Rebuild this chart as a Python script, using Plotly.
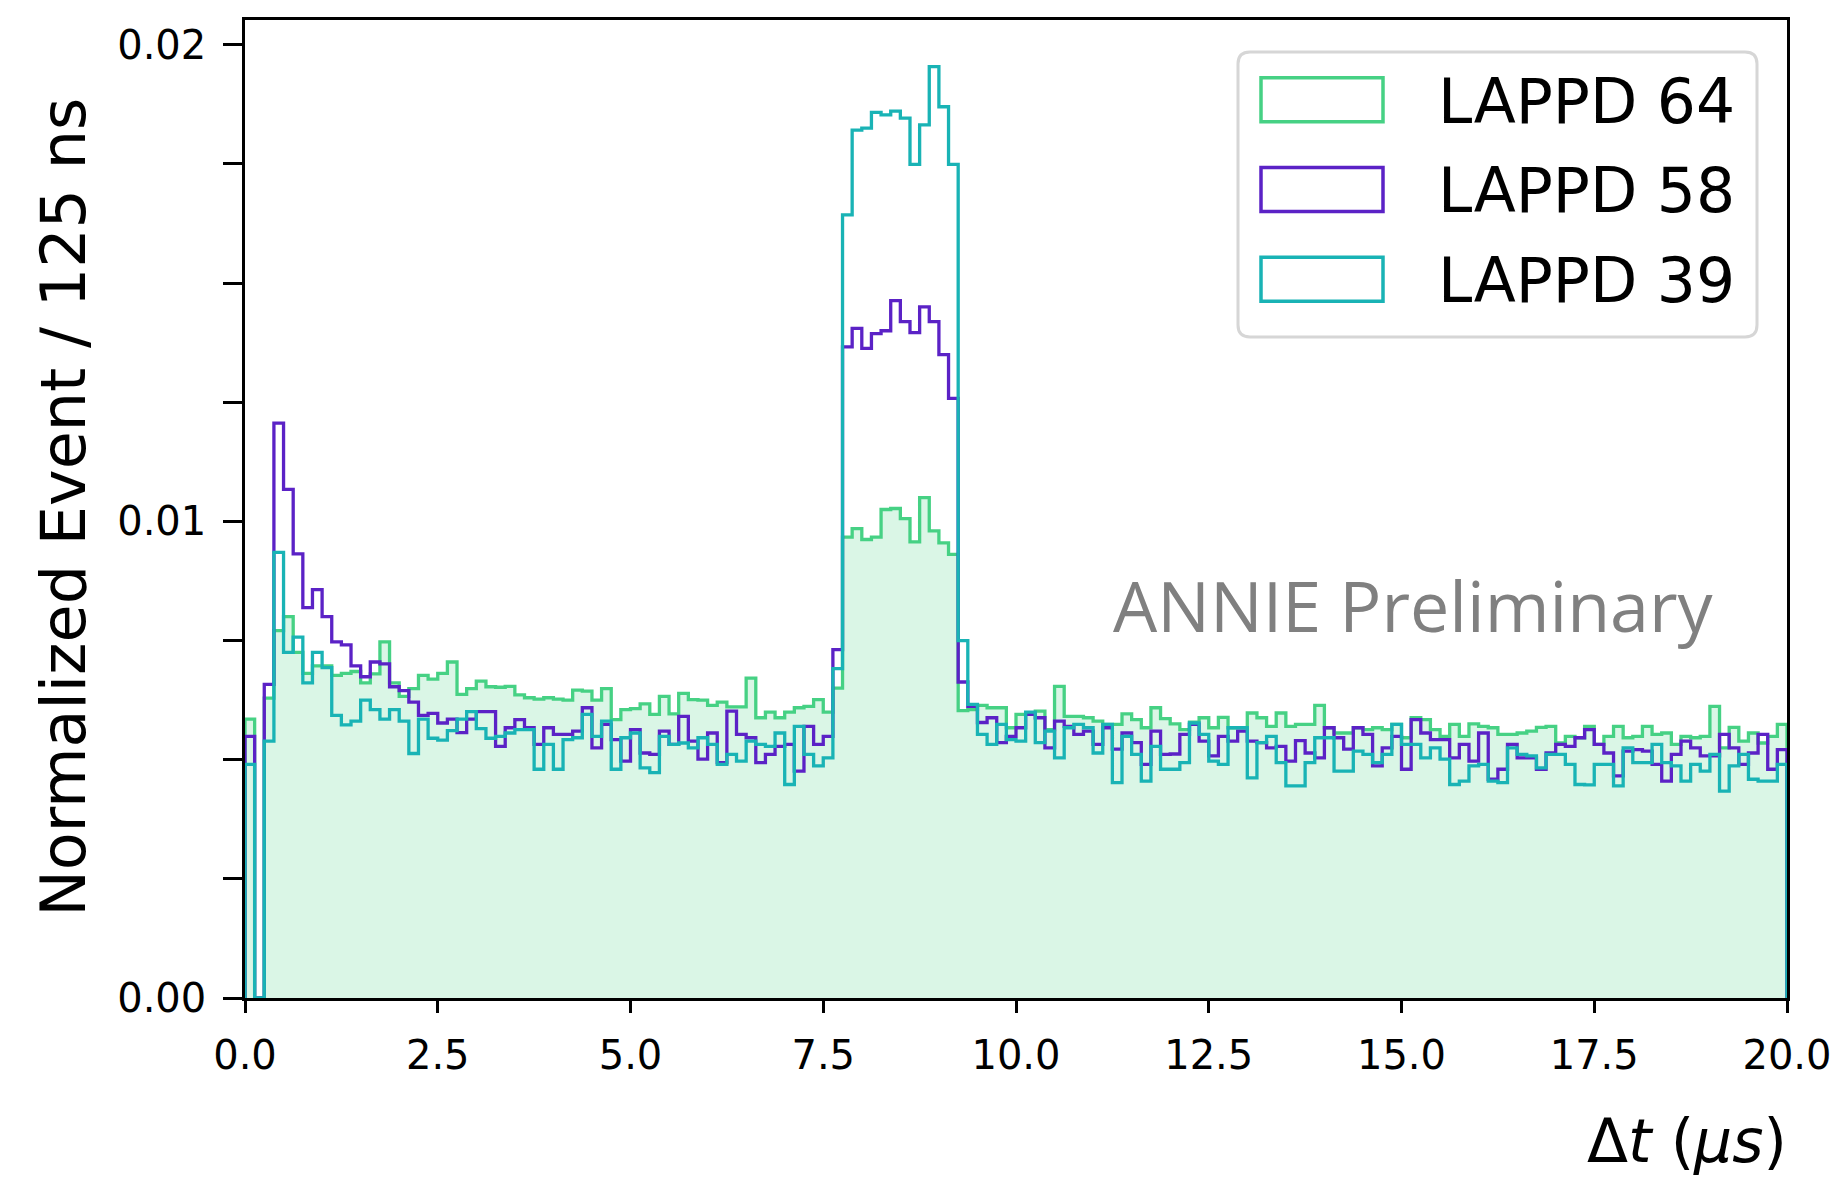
import numpy as np
import plotly.graph_objects as go

# ---------------- data ----------------
bin_width_us = 0.125
t_min, t_max = 0.0, 20.0

lappd64 = [
    0.00585, 0.0, 0.00629, 0.00771, 0.00800, 0.00725, 0.00681, 0.00697, 0.00697, 0.00677,
    0.00681, 0.00685, 0.00661, 0.00680, 0.00747, 0.00661, 0.00633, 0.00649, 0.00677, 0.00669,
    0.00681, 0.00705, 0.00637, 0.00649, 0.00665, 0.00653, 0.00652, 0.00654, 0.00636, 0.00630,
    0.00627, 0.00630, 0.00627, 0.00625, 0.00646, 0.00644, 0.00625, 0.00649, 0.00584, 0.00605,
    0.00607, 0.00617, 0.00595, 0.00633, 0.00596, 0.00639, 0.00626, 0.00625, 0.00614, 0.00621,
    0.00611, 0.00611, 0.00671, 0.00588, 0.00600, 0.00588, 0.00600, 0.00609, 0.00612, 0.00626,
    0.00600, 0.00650, 0.00967, 0.00985, 0.00962, 0.00967, 0.01025, 0.01027, 0.01006, 0.00957,
    0.01050, 0.00980, 0.00955, 0.00931, 0.00603, 0.00605, 0.00614, 0.00609, 0.00609, 0.00567,
    0.00595, 0.00598, 0.00602, 0.00563, 0.00654, 0.00591, 0.00591, 0.00588, 0.00581, 0.00574,
    0.00574, 0.00596, 0.00584, 0.00567, 0.00609, 0.00586, 0.00575, 0.00563, 0.00579, 0.00588,
    0.00567, 0.00589, 0.00567, 0.00567, 0.00598, 0.00588, 0.00570, 0.00598, 0.00570, 0.00574,
    0.00574, 0.00614, 0.00567, 0.00556, 0.00556, 0.00567, 0.00563, 0.00567, 0.00563, 0.00574,
    0.00546, 0.00588, 0.00584, 0.00563, 0.00549, 0.00574, 0.00549, 0.00575, 0.00570, 0.00567,
    0.00553, 0.00553, 0.00556, 0.00560, 0.00568, 0.00570, 0.00535, 0.00549, 0.00546, 0.00570,
    0.00532, 0.00549, 0.00570, 0.00546, 0.00549, 0.00570, 0.00553, 0.00556, 0.00532, 0.00549,
    0.00546, 0.00549, 0.00612, 0.00525, 0.00568, 0.00539, 0.00556, 0.00535, 0.00549, 0.00574,
]

lappd58 = [
    0.00549, 0.0, 0.00658, 0.01206, 0.01067, 0.00932, 0.00819, 0.00857, 0.00800, 0.00747,
    0.00741, 0.00697, 0.00674, 0.00705, 0.00701, 0.00653, 0.00645, 0.00621, 0.00593, 0.00597,
    0.00577, 0.00585, 0.00557, 0.00585, 0.00601, 0.00601, 0.00528, 0.00567, 0.00584, 0.00567,
    0.00532, 0.00567, 0.00553, 0.00553, 0.00560, 0.00609, 0.00525, 0.00574, 0.00542, 0.00497,
    0.00563, 0.00514, 0.00511, 0.00560, 0.00532, 0.00591, 0.00539, 0.00501, 0.00556, 0.00494,
    0.00602, 0.00553, 0.00546, 0.00494, 0.00511, 0.00528, 0.00532, 0.00476, 0.00570, 0.00532,
    0.00549, 0.00731, 0.01366, 0.01405, 0.01363, 0.01394, 0.01400, 0.01463, 0.01419, 0.01396,
    0.01450, 0.01419, 0.01350, 0.01258, 0.00663, 0.00612, 0.00578, 0.00588, 0.00536, 0.00549,
    0.00567, 0.00595, 0.00588, 0.00525, 0.00581, 0.00570, 0.00553, 0.00560, 0.00532, 0.00567,
    0.00522, 0.00556, 0.00536, 0.00490, 0.00560, 0.00511, 0.00512, 0.00553, 0.00574, 0.00539,
    0.00508, 0.00549, 0.00539, 0.00560, 0.00539, 0.00536, 0.00525, 0.00528, 0.00497, 0.00540,
    0.00514, 0.00504, 0.00567, 0.00546, 0.00522, 0.00567, 0.00553, 0.00487, 0.00525, 0.00549,
    0.00480, 0.00584, 0.00556, 0.00542, 0.00542, 0.00504, 0.00532, 0.00497, 0.00556, 0.00459,
    0.00480, 0.00532, 0.00504, 0.00504, 0.00480, 0.00514, 0.00532, 0.00528, 0.00546, 0.00563,
    0.00532, 0.00514, 0.00466, 0.00518, 0.00521, 0.00518, 0.00490, 0.00455, 0.00511, 0.00539,
    0.00525, 0.00508, 0.00508, 0.00553, 0.00525, 0.00490, 0.00514, 0.00553, 0.00480, 0.00521,
]

lappd39 = [
    0.00490, 0.0, 0.00539, 0.00935, 0.00725, 0.00757, 0.00661, 0.00725, 0.00693, 0.00593,
    0.00573, 0.00581, 0.00625, 0.00605, 0.00585, 0.00605, 0.00581, 0.00513, 0.00585, 0.00545,
    0.00541, 0.00561, 0.00585, 0.00601, 0.00565, 0.00545, 0.00549, 0.00556, 0.00563, 0.00563,
    0.00480, 0.00532, 0.00480, 0.00542, 0.00546, 0.00595, 0.00549, 0.00581, 0.00480, 0.00546,
    0.00556, 0.00483, 0.00473, 0.00549, 0.00532, 0.00535, 0.00525, 0.00546, 0.00532, 0.00490,
    0.00511, 0.00497, 0.00539, 0.00532, 0.00528, 0.00556, 0.00448, 0.00570, 0.00511, 0.00487,
    0.00504, 0.00691, 0.01643, 0.01821, 0.01825, 0.01858, 0.01853, 0.01861, 0.01846, 0.01749,
    0.01832, 0.01954, 0.01870, 0.01749, 0.00750, 0.00616, 0.00553, 0.00532, 0.00574, 0.00542,
    0.00539, 0.00600, 0.00536, 0.00560, 0.00504, 0.00567, 0.00574, 0.00567, 0.00514, 0.00574,
    0.00452, 0.00549, 0.00511, 0.00455, 0.00528, 0.00480, 0.00480, 0.00494, 0.00577, 0.00553,
    0.00497, 0.00490, 0.00567, 0.00567, 0.00462, 0.00536, 0.00549, 0.00494, 0.00445, 0.00445,
    0.00494, 0.00546, 0.00546, 0.00476, 0.00476, 0.00518, 0.00511, 0.00494, 0.00511, 0.00574,
    0.00532, 0.00532, 0.00504, 0.00525, 0.00501, 0.00448, 0.00455, 0.00487, 0.00490, 0.00455,
    0.00452, 0.00525, 0.00511, 0.00508, 0.00483, 0.00511, 0.00511, 0.00490, 0.00448, 0.00447,
    0.00490, 0.00490, 0.00445, 0.00525, 0.00494, 0.00494, 0.00532, 0.00494, 0.00487, 0.00455,
    0.00490, 0.00476, 0.00511, 0.00434, 0.00487, 0.00511, 0.00459, 0.00455, 0.00455, 0.00490,
]

series_names = ["LAPPD 64", "LAPPD 58", "LAPPD 39"]
series_values = [lappd64, lappd58, lappd39]

x_tick_vals = [0, 2.5, 5, 7.5, 10, 12.5, 15, 17.5, 20]
y_tick_vals = [0.0, 0.01, 0.02]

# ---------------- styles ----------------
colors = ["#46d184", "#5b22c6", "#19b3b5"]
fill_color = "rgba(70,209,132,0.2)"
OFF = 8  # default page margin of the HTML body
W, H = 1845 - OFF, 1185 - OFF
# plot area in reference-page pixels
RL, RR, RT, RB = 245, 1787, 17, 998
PL, PR, PT, PB = RL - OFF, RR - OFF, RT - OFF, RB - OFF
FONT = "DejaVu Sans"


def px_x(p):
    return (p - RL) / (RR - RL)


def px_y(p):
    return (RB - p) / (RB - RT)


edges = np.arange(len(lappd64) + 1) * bin_width_us + t_min


def step_xy(vals):
    x = [edges[0]] + list(edges[:-1]) + [edges[-1]]
    y = [0.0] + list(vals) + [0.0]
    return x, y


fig = go.Figure()
for i, (name, vals) in enumerate(zip(series_names, series_values)):
    x, y = step_xy(vals)
    fig.add_trace(go.Scatter(
        x=x, y=y, mode="lines", name=name,
        line=dict(color=colors[i], width=3.3, shape="hv"),
        fill="tozeroy" if i == 0 else None,
        fillcolor=fill_color if i == 0 else None,
        showlegend=False,
    ))

# ---------------- legend (drawn manually) ----------------
lx0, lx1, ly0, ly1 = px_x(1238), px_x(1757), px_y(49), px_y(335)
r = 12
rx, ry = r / (RR - RL), r / (RB - RT)
path = (f"M {lx0+rx},{ly0} L {lx1-rx},{ly0} Q {lx1},{ly0} {lx1},{ly0-ry} "
        f"L {lx1},{ly1+ry} Q {lx1},{ly1} {lx1-rx},{ly1} L {lx0+rx},{ly1} "
        f"Q {lx0},{ly1} {lx0},{ly1+ry} L {lx0},{ly0-ry} Q {lx0},{ly0} {lx0+rx},{ly0} Z")
shapes = [dict(type="path", xref="paper", yref="paper", path=path,
               line=dict(color="#d6d6d6", width=3), fillcolor="rgba(255,255,255,0.85)",
               layer="above")]
annotations = []
centers = [97, 187, 277]
for i, name in enumerate(series_names):
    c = centers[i]
    shapes.append(dict(type="rect", xref="paper", yref="paper",
                       x0=px_x(1261), x1=px_x(1383), y0=px_y(c - 22), y1=px_y(c + 22),
                       line=dict(color=colors[i], width=3.5), fillcolor="rgba(0,0,0,0)",
                       layer="above"))
    annotations.append(dict(xref="paper", yref="paper", x=px_x(1436), y=px_y(c + 2),
                            text=name, showarrow=False, xanchor="left", yanchor="middle",
                            font=dict(family=FONT, size=61.5, color="black")))

annotations.append(dict(xref="paper", yref="paper", x=px_x(1413), y=px_y(604),
                        text="ANNIE Preliminary", showarrow=False,
                        xanchor="center", yanchor="middle",
                        font=dict(family="Open Sans", size=70, color="#808080")))
annotations.append(dict(xref="paper", yref="paper", x=px_x(64), y=px_y(506),
                        text="Normalized Event / 125 ns", showarrow=False, textangle=-90,
                        xanchor="center", yanchor="middle",
                        font=dict(family=FONT, size=62, color="black")))
annotations.append(dict(xref="paper", yref="paper", x=px_x(1789), y=px_y(1141),
                        text="Δ<i>t</i> (<i>μs</i>)", showarrow=False,
                        xanchor="right", yanchor="middle",
                        font=dict(family=FONT, size=60, color="black")))

fig.update_layout(
    width=W, height=H,
    margin=dict(l=PL, r=W - PR, t=PT, b=H - PB, pad=0),
    paper_bgcolor="white", plot_bgcolor="white",
    shapes=shapes, annotations=annotations,
    showlegend=False,
    xaxis=dict(range=[t_min, t_max], tickvals=x_tick_vals,
               ticktext=[f"{v:.1f}" for v in x_tick_vals],
               ticks="outside", ticklen=12, tickwidth=2.5, tickcolor="black",
               showline=True, linecolor="black", linewidth=2.5, mirror=True,
               showgrid=False, zeroline=False, ticklabelstandoff=8,
               tickfont=dict(family=FONT, size=40, color="black")),
    yaxis=dict(range=[0, 0.02052], tickvals=y_tick_vals,
               ticktext=[f"{v:.2f}" for v in y_tick_vals],
               ticks="outside", ticklen=12, tickwidth=2.5, tickcolor="black",
               minor=dict(dtick=0.0025, tick0=0, ticks="outside", ticklen=19,
                          tickwidth=2.5, tickcolor="black", showgrid=False),
               showline=True, linecolor="black", linewidth=2.5, mirror=True,
               showgrid=False, zeroline=False, ticklabelstandoff=16,
               tickfont=dict(family=FONT, size=40, color="black")),
)

fig.write_html("out.html")
